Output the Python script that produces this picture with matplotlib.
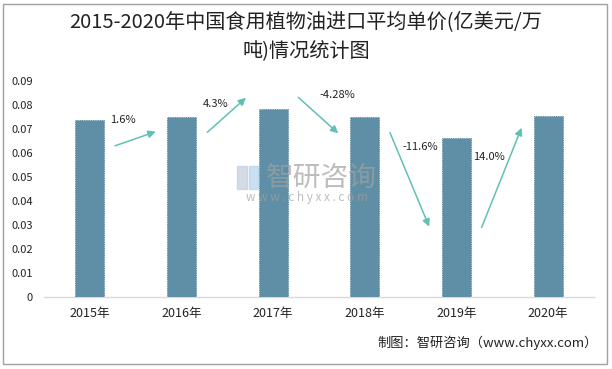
import matplotlib
matplotlib.use("Agg")
import matplotlib.pyplot as plt
from matplotlib.patches import Rectangle

plt.rcParams['font.family'] = ['Noto Sans CJK SC', 'DejaVu Sans']

years = ['2015年', '2016年', '2017年', '2018年', '2019年', '2020年']
prices = [0.0738, 0.0750, 0.0783, 0.0750, 0.0663, 0.0756]
growth_labels = ['1.6%', '4.3%', '-4.28%', '-11.6%', '14.0%']
yticks = [0, 0.01, 0.02, 0.03, 0.04, 0.05, 0.06, 0.07, 0.08, 0.09]
ytick_labels = ['0', '0.01', '0.02', '0.03', '0.04', '0.05', '0.06', '0.07', '0.08', '0.09']

# arrow geometry (data coords: category index, value)
arrow_start = [(0.275, 0.0630), (1.281, 0.0686), (2.274, 0.0832), (3.274, 0.0685), (4.274, 0.0290)]
arrow_end = [(0.719, 0.0689), (1.703, 0.0830), (2.710, 0.0682), (3.702, 0.0293), (4.710, 0.0705)]
label_pos = [(0.362, 0.0738), (1.376, 0.0804), (2.696, 0.0842), (3.609, 0.0624), (4.357, 0.0582)]

fig = plt.figure(figsize=(6.12, 3.69), dpi=100)
ax = fig.add_axes([44/612, 1-297/369, 550/612, 216/369])

x = list(range(len(years)))
ax.bar(x, prices, width=0.32, color='#5E8FA7', edgecolor='#46758C', linewidth=0.6, linestyle=':', zorder=3)

ax.set_xlim(-0.5, len(years)-0.5)
ax.set_ylim(0, 0.09)
ax.set_yticks(yticks)
ax.set_yticklabels(ytick_labels, fontsize=8, color='#222222')
ax.set_xticks(x)
ax.set_xticklabels(years, fontsize=9, color='#222222')
ax.tick_params(axis='both', length=0)
ax.tick_params(axis='y', pad=8)
ax.tick_params(axis='x', pad=7)
for s in ['top', 'right', 'left']:
    ax.spines[s].set_visible(False)
ax.spines['bottom'].set_color('#D9D9D9')
ax.spines['bottom'].set_linewidth(1)

acol = '#5FC0B6'
for st, en, lp, lab in zip(arrow_start, arrow_end, label_pos, growth_labels):
    ax.annotate('', xy=en, xytext=st,
                arrowprops=dict(arrowstyle='-|>', color=acol, lw=1.1, mutation_scale=11, shrinkA=0, shrinkB=0),
                annotation_clip=False, zorder=4)
    ax.text(lp[0], lp[1], lab, ha='center', va='center', fontsize=8, color='#222222', zorder=5)

# watermark
fig.text(321/612, 1-178/369, '智研咨询', ha='center', va='center', fontsize=20, color='#A0A0A0', alpha=0.7)
fig.text(307/612, 1-198/369, 'w w w . c h y x x . c o m', ha='center', va='center', fontsize=8.5, color='#A0A0A0', alpha=0.7)
fig.patches.append(Rectangle((237/612, 1-189/369), 10/612, 23/369, transform=fig.transFigure, color='#B8C4D6', alpha=0.6))
fig.patches.append(Rectangle((249/612, 1-189/369), 9/612, 23/369, transform=fig.transFigure, color='#A9CDE8', alpha=0.6))

# title
fig.text(306/612, 1-22/369, '2015-2020年中国食用植物油进口平均单价(亿美元/万', ha='center', va='center',
         fontsize=14.5, fontweight='medium', color='#222222')
fig.text(306/612, 1-51/369, '吨)情况统计图', ha='center', va='center',
         fontsize=14.5, fontweight='medium', color='#222222')

# footer
fig.text(598/612, 1-343/369, '制图：智研咨询（www.chyxx.com）', ha='right', va='center', fontsize=9.5, color='#222222')

# border
fig.patches.append(Rectangle((3/612, 1-364/369), 604/612, 360/369, transform=fig.transFigure,
                             fill=False, edgecolor='#A0A0A0', linewidth=1))

fig.savefig('out.png', dpi=100)
